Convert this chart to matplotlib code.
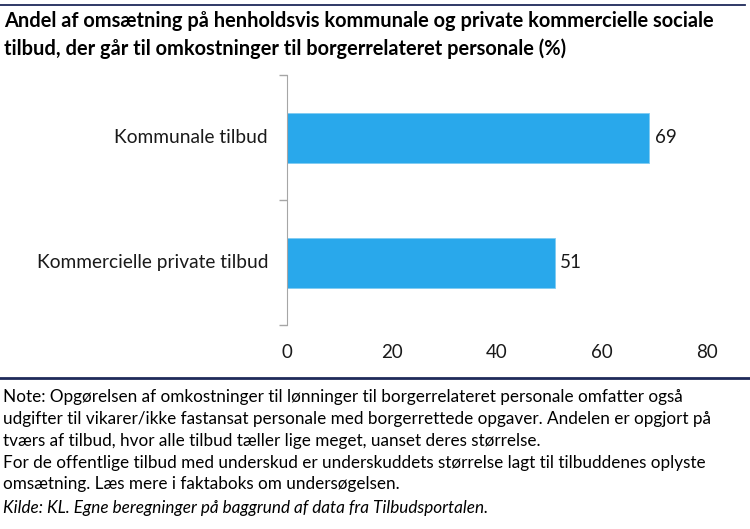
import matplotlib
matplotlib.use('Agg')
import matplotlib.pyplot as plt
from matplotlib.lines import Line2D

plt.rcParams['font.family'] = ['Lato', 'DejaVu Sans']

# data
categories = ['Kommunale tilbud', 'Kommercielle private tilbud']
values     = [69, 51]
xticks     = [0, 20, 40, 60, 80]

title = ('Andel af omsætning på henholdsvis kommunale og private kommercielle sociale\n'
         'tilbud, der går til omkostninger til borgerrelateret personale (%)')
note = ('Note: Opgørelsen af omkostninger til lønninger til borgerrelateret personale omfatter også\n'
        'udgifter til vikarer/ikke fastansat personale med borgerrettede opgaver. Andelen er opgjort på\n'
        'tværs af tilbud, hvor alle tilbud tæller lige meget, uanset deres størrelse.\n'
        'For de offentlige tilbud med underskud er underskuddets størrelse lagt til tilbuddenes oplyste\n'
        'omsætning. Læs mere i faktaboks om undersøgelsen.')
source = 'Kilde: KL. Egne beregninger på baggrund af data fra Tilbudsportalen.'

W, H = 750, 529
navy = '#1f2a5a'
fig = plt.figure(figsize=(W / 100, H / 100), dpi=100)
ax  = fig.add_axes([287 / W, 1 - 325 / H, (707 - 287) / W, (325 - 75) / H])

ypos = [1, 0]
ax.barh(ypos, values, height=0.4, color='#29A8EB', edgecolor='#7FCBF2', linewidth=0.6)
for y, v in zip(ypos, values):
  ax.text(v + 1.0, y, str(v), va='center', ha='left', fontsize=13.5, color='#1a1a1a')

ax.set_xlim(0, 80)
ax.set_ylim(-0.5, 1.5)
ax.set_xticks(xticks)
ax.set_xticklabels([str(t) for t in xticks], fontsize=13.5, color='#1a1a1a')
ax.tick_params(axis='x', length=0, pad=14)
ax.set_yticks([-0.5, 0.5, 1.5])
ax.set_yticklabels([])
ax.tick_params(axis='y', length=6, color='#a6a6a6', width=1)
for y, c in zip(ypos, categories):
  ax.text(-0.045, y, c, transform=ax.get_yaxis_transform(), ha='right', va='center',
          fontsize=13.8, color='#1a1a1a')
for s in ['top', 'right', 'bottom']:
  ax.spines[s].set_visible(False)
ax.spines['left'].set_color('#a6a6a6')

# rules top and under the chart
fig.add_artist(Line2D([0, 745 / W], [1 - 5 / H, 1 - 5 / H], transform=fig.transFigure,
                      color=navy, linewidth=1.3))
fig.add_artist(Line2D([0, 1], [1 - 378 / H, 1 - 378 / H], transform=fig.transFigure,
                      color=navy, linewidth=2))

fig.text(4 / W, 1 - 11 / H, title, ha='left', va='top', fontsize=14.4, fontweight='bold',
         linespacing=1.43, color='#000000')
fig.text(3 / W, 1 - 389 / H, note, ha='left', va='top', fontsize=12.3, linespacing=1.45,
         color='#000000')
fig.text(3 / W, 1 - 508 / H, source, ha='left', va='center', fontsize=12.3, style='italic',
         color='#000000')

fig.savefig('out.png', dpi=100)
